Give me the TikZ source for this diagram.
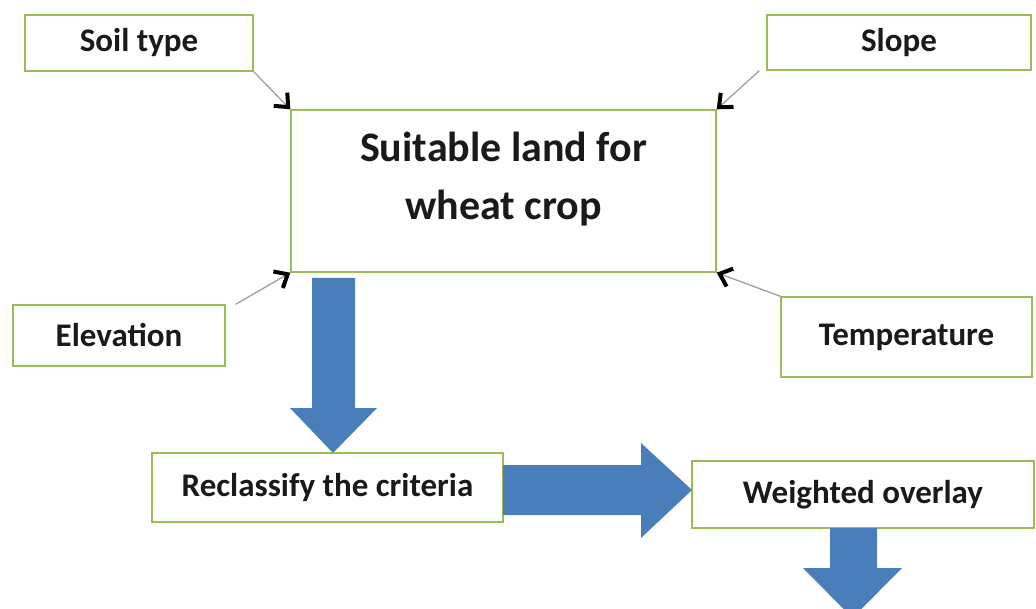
\documentclass[tikz,border=0pt]{standalone}
\usepackage{fontspec}
\setmainfont{Carlito}
\usetikzlibrary{arrows.meta}
\definecolor{boxgreen}{HTML}{9BBB59}
\definecolor{flowblue}{HTML}{4A7EBB}
\definecolor{txt}{HTML}{1A1A1A}
\tikzset{
  crit/.style={draw=boxgreen, line width=1.4pt, fill=white, inner sep=0pt,
    font=\fontsize{33}{38}\selectfont\bfseries, text=txt},
  feed/.style={draw=gray!75, line width=1.3pt,
    -{Straight Barb[length=11pt,width=19pt,line width=4pt,color=black]}},
  bigarrow/.style={fill=flowblue, draw=none}
}
\begin{document}
\begin{tikzpicture}[x=1pt,y=-1pt]
\useasboundingbox (0,0) rectangle (1036,609);
\clip (0,0) rectangle (1036,609);
% boxes
\node[crit, minimum width=228pt, minimum height=56pt] (soil) at (139,43) {Soil type};
\node[crit, minimum width=264pt, minimum height=55pt] (slope) at (899,42.5) {Slope};
\node[crit, minimum width=425pt, minimum height=162pt] (main) at (503.5,191) {};
\node[font=\fontsize{42}{58}\selectfont\bfseries, text=txt, align=center, anchor=base] (maintxt) at (503.5,220) {Suitable land for\\wheat crop};
\node[crit, minimum width=212pt, minimum height=61pt] (elev) at (119,335.5) {Elevation};
\node[crit, minimum width=251pt, minimum height=80pt] (temp) at (906.5,337) {Temperature};
\node[crit, minimum width=351pt, minimum height=69pt] (recl) at (327.5,487.5) {Reclassify the criteria};
\node[crit, minimum width=342pt, minimum height=67pt] (wov) at (863,494.5) {Weighted overlay};
% feeding arrows
\draw[feed] (soil.south east) -- (main.north west);
\draw[feed] ([xshift=-7pt]slope.south west) -- (main.north east);
\draw[feed] ([xshift=10pt]elev.north east) -- (main.south west);
\draw[feed] (temp.north west) -- (main.south east);
% block arrows
\fill[bigarrow] (312,278) -- (355,278) -- (355,408) -- (377,408) -- (333,453) -- (290,408) -- (312,408) -- cycle;
\fill[bigarrow] (503,465) -- (641,465) -- (641,443) -- (692,490) -- (641,538) -- (641,515) -- (503,515) -- cycle;
\fill[bigarrow] (830,528) -- (877,528) -- (877,568) -- (902,568) -- (852.5,618) -- (803,568) -- (830,568) -- cycle;
\end{tikzpicture}
\end{document}
